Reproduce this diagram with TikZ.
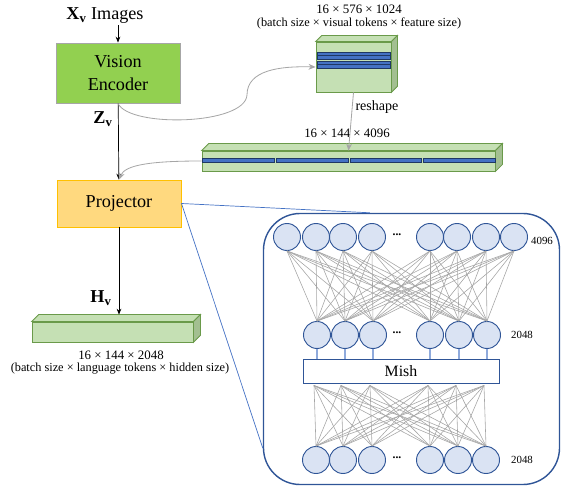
\documentclass[tikz,border=0pt]{standalone}
\usepackage{fontspec}
\setmainfont{Liberation Serif}
\usetikzlibrary{calc, positioning, arrows.meta}
\definecolor{encgreen}{HTML}{92D050}
\definecolor{encgray}{HTML}{A6A6A6}
\definecolor{projfill}{HTML}{FFD97F}
\definecolor{projline}{HTML}{FFC000}
\definecolor{slabfill}{HTML}{C5E0B4}
\definecolor{slabside}{HTML}{A3BF91}
\definecolor{slabline}{HTML}{6A9A4A}
\definecolor{tokfill}{HTML}{4472C4}
\definecolor{tokline}{HTML}{1F3864}
\definecolor{netblue}{HTML}{2F5597}
\definecolor{cellfill}{HTML}{DAE3F3}
\definecolor{wirecol}{HTML}{A6A6A6}
\definecolor{linkblue}{HTML}{8FAADC}
\definecolor{zoomblue}{HTML}{4472C4}

% top and side faces of a slab node
\newcommand{\slabfaces}[2]{%
  \filldraw[fill=slabfill, draw=slabline, line width=0.7pt] (#1.north west) -- ++(#2,-#2) -- ($(#1.north east)+(#2,-#2)$) -- (#1.north east) -- cycle;
  \filldraw[fill=slabside, draw=slabline, line width=0.7pt] (#1.north east) -- ++(#2,-#2) -- ($(#1.south east)+(#2,-#2)$) -- (#1.south east) -- cycle;}

\begin{document}
\begin{tikzpicture}[x=0.03cm, y=-0.03cm,
  encbox/.style={draw=encgray, fill=encgreen, line width=0.8pt, minimum width=3.72cm, minimum height=1.8cm, align=center, font=\fontsize{15.5}{19}\selectfont},
  projbox/.style={draw=projline, fill=projfill, line width=0.8pt, minimum width=3.72cm, minimum height=1.41cm, font=\fontsize{15.5}{19}\selectfont},
  slab/.style={draw=slabline, fill=slabfill, line width=0.7pt, inner sep=0pt},
  token/.style={fill=tokfill, draw=tokline, line width=0.5pt},
  cell/.style={circle, draw=netblue, fill=cellfill, line width=0.8pt, minimum size=0.81cm, inner sep=0pt},
  wire/.style={wirecol, line width=0.5pt},
  link/.style={linkblue, line width=1pt},
  flow/.style={encgray, line width=0.7pt, -{Stealth[length=6pt,width=5pt]}},
  main/.style={black, line width=0.6pt, -{Stealth[length=5pt,width=4pt]}},
  dim/.style={font=\fontsize{11}{13}\selectfont, inner sep=0pt},
  sizes/.style={font=\fontsize{10.5}{12}\selectfont, inner sep=0pt},
  count/.style={font=\fontsize{9.3}{11}\selectfont, inner sep=0pt},
  big/.style={font=\fontsize{15.5}{19}\selectfont, inner sep=1pt}]
\useasboundingbox (0,0) rectangle (561,486);

% left column
\node[big] (img) at (105,16) {$\mathbf{X}_{\mathbf{v}}$ Images};
\node[encbox] (venc) at (118,73) {Vision\\Encoder};
\node[projbox] (proj) at (119,203.5) {Projector};
\node[slab, minimum width=4.83cm, minimum height=0.6cm] (hbar) at (112.5,332) {};
\slabfaces{hbar}{7}
\coordinate (hbartop) at ($(hbar.north)+(7,-7)$);
\node[big] (zv) at (103,119) {$\mathbf{Z}_{\mathbf{v}}$};
\node[big] (hv) at (101,298) {$\mathbf{H}_{\mathbf{v}}$};
\node[dim] (hbardim) at (121,355) {16 × 144 × 2048};
\node[sizes] (hbaraxes) at (120,369) {(batch size × language tokens × hidden size)};

\draw[main] (img.south -| venc.north) -- (venc.north);
\draw[main] (venc) -- (proj);
\draw[main] (proj.south) -- (proj.south |- hbartop);

% visual tokens
\node[slab, minimum width=2.25cm, minimum height=1.5cm] (cube) at (353.5,67) {};
\slabfaces{cube}{6}
\foreach \ya/\yb in {52/55.5, 55.5/59, 61/64.5, 64.5/68}
  \filldraw[token] (317,\ya) rectangle (390,\yb);
\node[dim] (cubedim) at (359,9) {16 × 576 × 1024};
\node[sizes] (cubeaxes) at (359,23) {(batch size × visual tokens × feature size)};

\node[slab, minimum width=8.79cm, minimum height=0.6cm] (lbar) at (348.5,161) {};
\slabfaces{lbar}{7}
\foreach \a/\b in {202/274, 276/348, 350/421, 423/495}
  \filldraw[token] (\a,158) rectangle (\b,162);
\node[dim] (lbardim) at (347,133) {16 × 144 × 4096};
\node[font=\fontsize{12}{14}\selectfont, inner sep=0pt] (reshape) at (377,107) {reshape};

\draw[flow] (venc.south) .. controls (130,128) and (245,125) .. (247,95) .. controls (247,70) and (280,66) .. (cube.west);
\draw[flow] (cube.south) -- (lbar.north);
\draw[flow] (lbar.west) .. controls (150,161) and (125,165) .. (proj.north);

% projector detail
\node[draw=netblue, line width=1.2pt, rounded corners=1.1cm, minimum width=8.88cm, minimum height=8.13cm] (frame) at (411.5,349) {};
\coordinate (zt) at ($(frame.north west)!0.36!(frame.north east)$);
\coordinate (zb) at ($(frame.south west)+(0,-37)$);
\draw[zoomblue, line width=0.6pt] (proj.east) -- (zt);
\draw[zoomblue, line width=0.6pt] (proj.east) -- (zb);

\foreach \x [count=\i] in {287,316,343,372,430,457,486,514}
  \node[cell] (t\i) at (\x,237) {};
\foreach \x [count=\i] in {317,345,373,430,459,487}
  \node[cell] (m\i) at (\x,335) {};
\foreach \x [count=\i] in {316,343,372,430,458,486}
  \node[cell] (b\i) at (\x,460) {};
\node[draw=netblue, fill=white, line width=0.8pt, minimum width=5.88cm, minimum height=0.72cm, font=\fontsize{13.5}{16}\selectfont] (mish) at (401,371) {Mish};

\node[font=\fontsize{10}{10}\selectfont\bfseries] (dt) at (397,235) {...};
\node[font=\fontsize{10}{10}\selectfont\bfseries] (dm) at (397,333) {...};
\node[font=\fontsize{10}{10}\selectfont\bfseries] (db) at (397,458) {...};
\node[count] (ct) at (542,241) {4096};
\node[count] (cm) at (522,335) {2048};
\node[count] (cb) at (522,460) {2048};

\foreach \i in {1,...,8}
  \foreach \j in {1,...,6}
    \draw[wire] (t\i.south) -- (m\j.north);
\foreach \i in {1,...,6}
  \draw[link] (m\i.south) -- (m\i |- mish.north);
\foreach \i in {1,...,6}
  \coordinate (s\i) at ($(b\i |- mish.south)+(-2,2)$);
\foreach \i in {1,...,6}
  \foreach \j in {1,...,6}
    \draw[wire] (s\i) -- (b\j.north);
\end{tikzpicture}
\end{document}
